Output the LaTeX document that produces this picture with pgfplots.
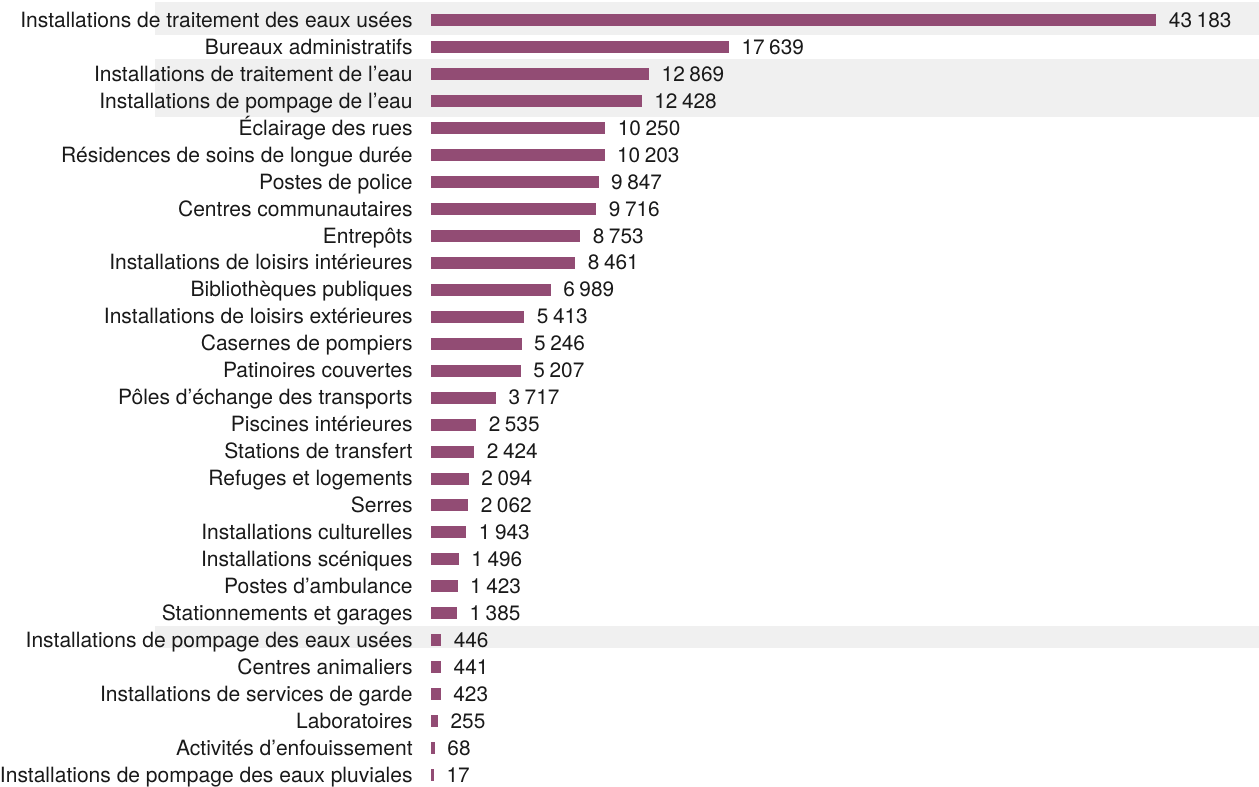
\documentclass[border=0pt]{standalone}
\usepackage{pgfplots}
\usepackage{pgfplotstable}
\pgfplotsset{compat=1.18}
\usepackage{fontspec}
\setmainfont{TeX Gyre Heros}
\definecolor{barc}{RGB}{146,76,116}
\definecolor{bandc}{RGB}{240,240,240}
\pgfplotstableread{
idx value
0 43183
1 17639
2 12869
3 12428
4 10250
5 10203
6 9847
7 9716
8 8753
9 8461
10 6989
11 5413
12 5246
13 5207
14 3717
15 2535
16 2424
17 2094
18 2062
19 1943
20 1496
21 1423
22 1385
23 446
24 441
25 423
26 255
27 68
28 17
}\data
\begin{document}
\begin{tikzpicture}
\begin{axis}[
  set layers,
  scale only axis,
  width=825.5pt, height=784.1pt,
  xbar, bar width=9pt,
  xmin=0, xmax=49396,
  ymin=-0.745, ymax=28.37,
  y dir=reverse,
  clip=false,
  axis line style={draw=none},
  major tick length=0pt,
  xtick=\empty,
  ytick={0,...,28},
  yticklabels={
    Installations de traitement des eaux usées,
    Bureaux administratifs,
    Installations de traitement de l’eau,
    Installations de pompage de l’eau,
    Éclairage des rues,
    Résidences de soins de longue durée,
    Postes de police,
    Centres communautaires,
    Entrepôts,
    Installations de loisirs intérieures,
    Bibliothèques publiques,
    Installations de loisirs extérieures,
    Casernes de pompiers,
    Patinoires couvertes,
    Pôles d’échange des transports,
    Piscines intérieures,
    Stations de transfert,
    Refuges et logements,
    Serres,
    Installations culturelles,
    Installations scéniques,
    Postes d’ambulance,
    Stationnements et garages,
    Installations de pompage des eaux usées,
    Centres animaliers,
    Installations de services de garde,
    Laboratoires,
    Activités d’enfouissement,
    Installations de pompage des eaux pluviales},
  yticklabel style={anchor=base east, inner sep=0pt, xshift=-19.5pt, yshift=-7.2pt, font=\fontsize{21}{25}\selectfont, text=black!90},
  nodes near coords,
  nodes near coords style={anchor=base west, inner sep=0pt, xshift=12.5pt, yshift=-7.2pt, font=\fontsize{20.8}{25}\selectfont, text=black!90},
  /pgf/number format/.cd, fixed, precision=0, 1000 sep={\hspace{0.22em}}, assume math mode=true,
]
\begin{pgfonlayer}{axis background}
\fill[bandc] (axis cs:-16545,-0.66) rectangle (axis cs:49396,0.557);
\fill[bandc] (axis cs:-16545,1.448) rectangle (axis cs:49396,3.60);
\fill[bandc] (axis cs:-16545,22.47) rectangle (axis cs:49396,23.28);
\end{pgfonlayer}
\addplot[fill=barc, draw=barc, line width=3pt] table[x=value, y=idx] {\data};
\end{axis}
\end{tikzpicture}
\end{document}
